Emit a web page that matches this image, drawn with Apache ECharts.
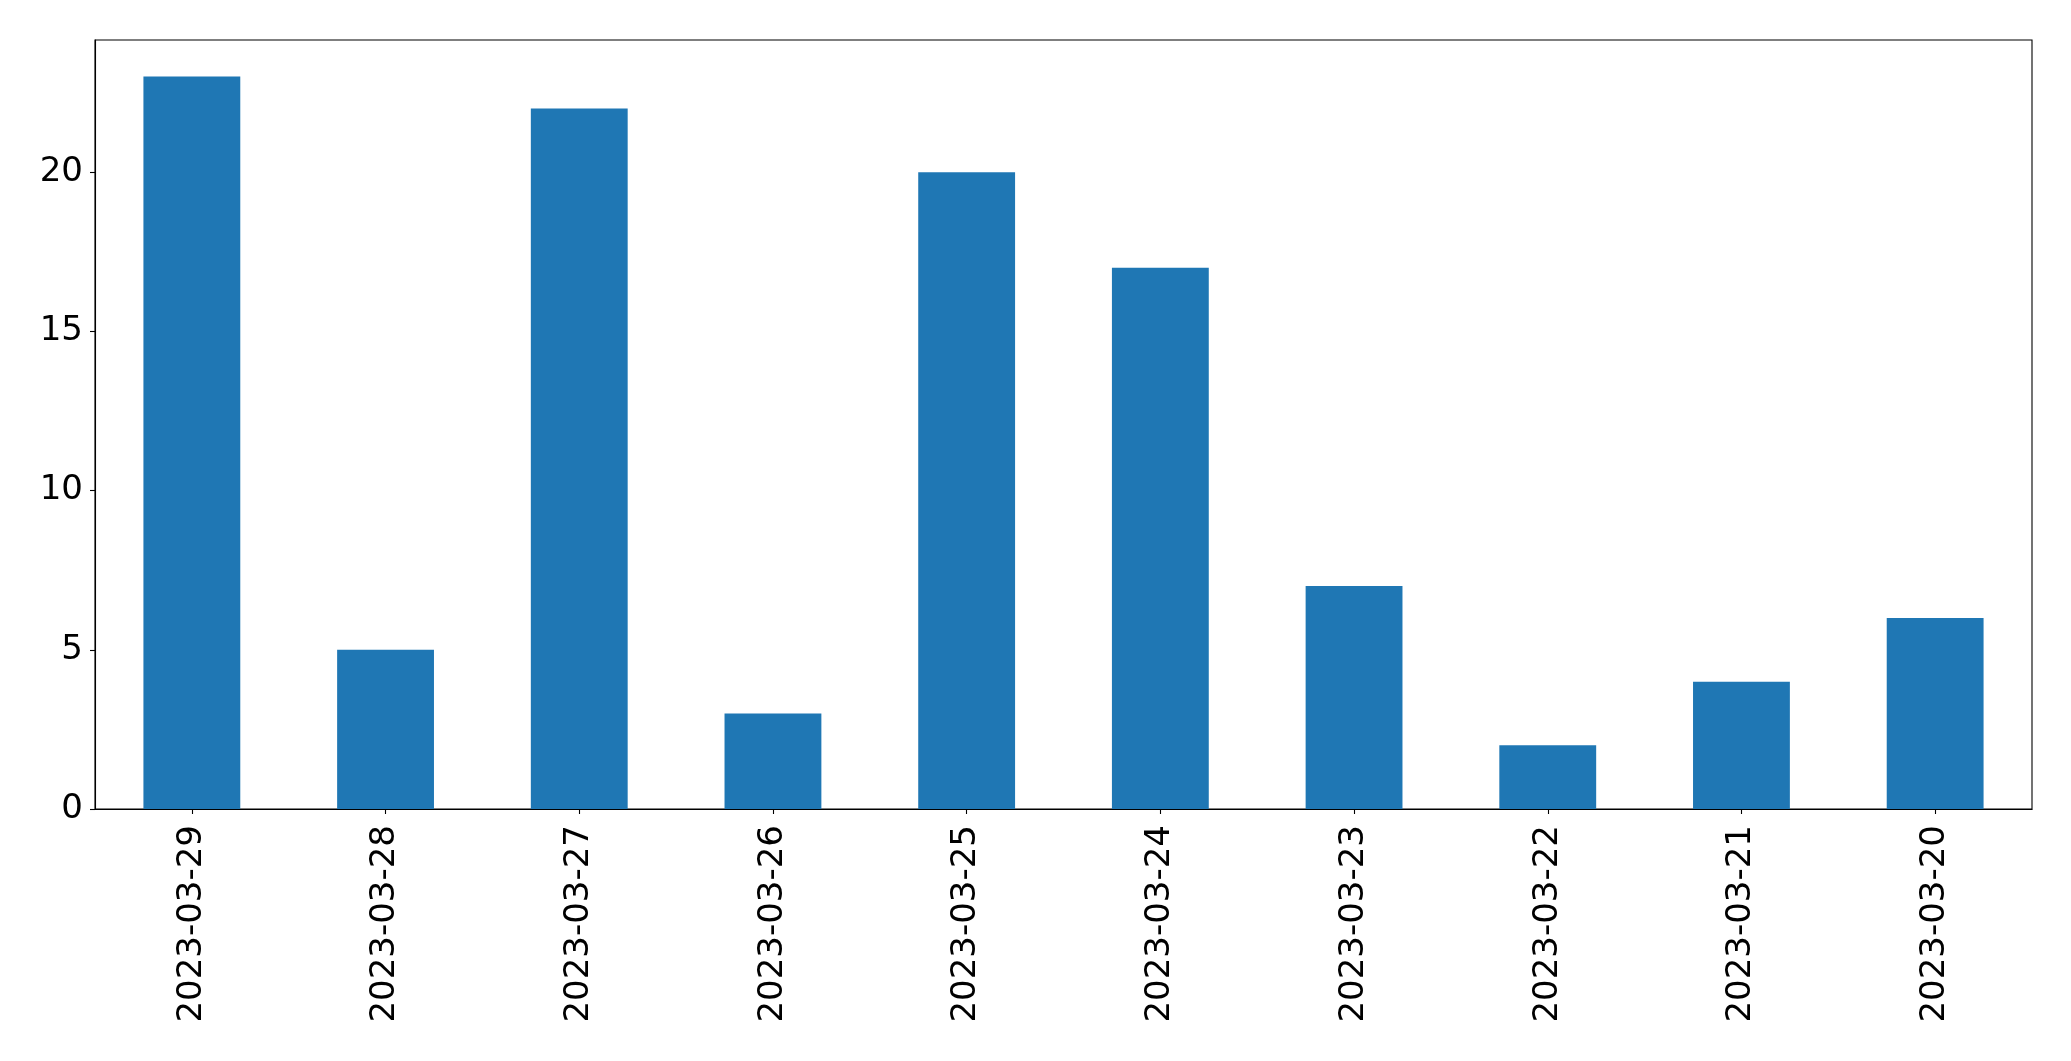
<!DOCTYPE html>
<html>
<head>
<meta charset="utf-8">
<script src="https://cdn.jsdelivr.net/npm/echarts@6/dist/echarts.min.js"></script>
<style>
html,body{margin:0;padding:0;background:#fff;}
#c{width:2071px;height:1061px;}
</style>
</head>
<body>
<div id="c"></div>
<script>
const categories = ["2023-03-29","2023-03-28","2023-03-27","2023-03-26","2023-03-25","2023-03-24","2023-03-23","2023-03-22","2023-03-21","2023-03-20"];
const values = [23, 5, 22, 3, 20, 17, 7, 2, 4, 6];
const yTicks = [0, 5, 10, 15, 20];

const chart = echarts.init(document.getElementById('c'), null, {renderer: 'canvas'});
const font = 'DejaVu Sans';
chart.setOption({
  animation: false,
  backgroundColor: '#fff',
  grid: {left: 95, right: 39, top: 40, bottom: 252, show: true, borderColor: '#000', borderWidth: 1.1, backgroundColor: 'transparent'},
  xAxis: {
    type: 'category',
    data: categories,
    boundaryGap: true,
    axisLine: {show: true, lineStyle: {color: '#000', width: 1.1}},
    axisTick: {show: true, alignWithLabel: true, length: 5, lineStyle: {color: '#000', width: 1.1}},
    axisLabel: {rotate: 90, fontFamily: font, fontSize: 34, color: '#000', margin: 16, interval: 0},
    splitLine: {show: false}
  },
  yAxis: {
    type: 'value',
    min: 0,
    max: 24.15,
    interval: 5,
    axisLine: {show: true, lineStyle: {color: '#000', width: 1.1}},
    axisTick: {show: true, length: 5, lineStyle: {color: '#000', width: 1.1}, customValues: yTicks},
    axisLabel: {fontFamily: font, fontSize: 34, color: '#000', margin: 12, customValues: yTicks},
    splitLine: {show: false}
  },
  series: [{
    type: 'bar',
    data: values,
    barWidth: '50%',
    itemStyle: {color: '#1f77b4'}
  }]
});
</script>
</body>
</html>
